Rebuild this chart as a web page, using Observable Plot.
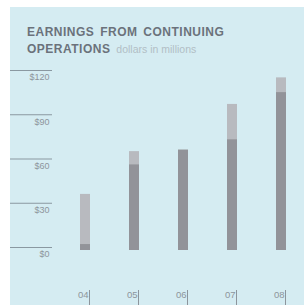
<!DOCTYPE html>
<html>
<head>
<meta charset="utf-8">
<script src="https://cdn.jsdelivr.net/npm/d3@7"></script>
<script src="https://cdn.jsdelivr.net/npm/@observablehq/plot@0.6"></script>
<style>
  html, body { margin: 0; padding: 0; background: #ffffff; }
  #wrap { position: relative; width: 304px; height: 305px; overflow: hidden; }
  #panel { position: absolute; left: 10px; top: 7px; right: 0; bottom: 0; background: #d5ecf2; }
  #chart { position: absolute; left: 0; top: 0; }
  #title { position: absolute; left: 27px; top: 24px; font-family: "Liberation Sans", Arial, sans-serif;
           font-size: 12px; line-height: 17px; font-weight: bold; color: #6b727b;
           letter-spacing: 0.5px; word-spacing: 2px; white-space: nowrap; }
  #title .sub { font-weight: normal; font-size: 10.5px; color: #b2bec5; letter-spacing: 0; word-spacing: 0; }
</style>
</head>
<body>
<div id="wrap">
  <div id="panel"></div>
  <div id="chart"></div>
  <div id="title">EARNINGS FROM CONTINUING<br>OPERATIONS <span class="sub">dollars in millions</span></div>
</div>
<script>
const years = ["04", "05", "06", "07", "08"];
const continuingOps = [2, 56, 66, 73, 105];
const totalEarnings = [36, 65, 66, 97, 115];
const yTicks = [0, 30, 60, 90, 120];

const data = years.map((year, i) => ({year, dark: continuingOps[i], total: totalEarnings[i]}));

const chart = Plot.plot({
  width: 304,
  height: 305,
  marginLeft: 68,
  marginRight: 7,
  marginTop: 70,
  marginBottom: 58,
  style: {background: "transparent", fontFamily: "'Liberation Sans', Arial, sans-serif"},
  x: {type: "band", domain: years, paddingInner: 0.8, paddingOuter: 0.2, axis: null, label: null},
  y: {domain: [0, 120], axis: null, label: null},
  marks: [
    Plot.axisY(yTicks, {tickSize: 42, dx: -16, tickFormat: () => "", stroke: "#8a98a1", label: null}),
    Plot.axisY(yTicks, {tickSize: 0, tickPadding: 19, dy: 7, tickFormat: d => "$" + d, fill: "#8d959c", fontSize: 9, label: null}),
    Plot.rectY(data, {x: "year", y1: 0, y2: "total", fill: "#b8babf", insetBottom: -3}),
    Plot.rectY(data, {x: "year", y1: 0, y2: "dark", fill: "#929399", insetBottom: -3}),
    Plot.axisX(years, {tickSize: 15, dy: 43, dx: 4, tickFormat: () => "", stroke: "#8d959c", label: null}),
    Plot.text(years, {x: d => d, text: d => d, frameAnchor: "bottom", dy: 50, dx: 3, textAnchor: "end", fill: "#8d959c", fontSize: 9.5})
  ]
});
document.getElementById("chart").appendChild(chart);
</script>
</body>
</html>
